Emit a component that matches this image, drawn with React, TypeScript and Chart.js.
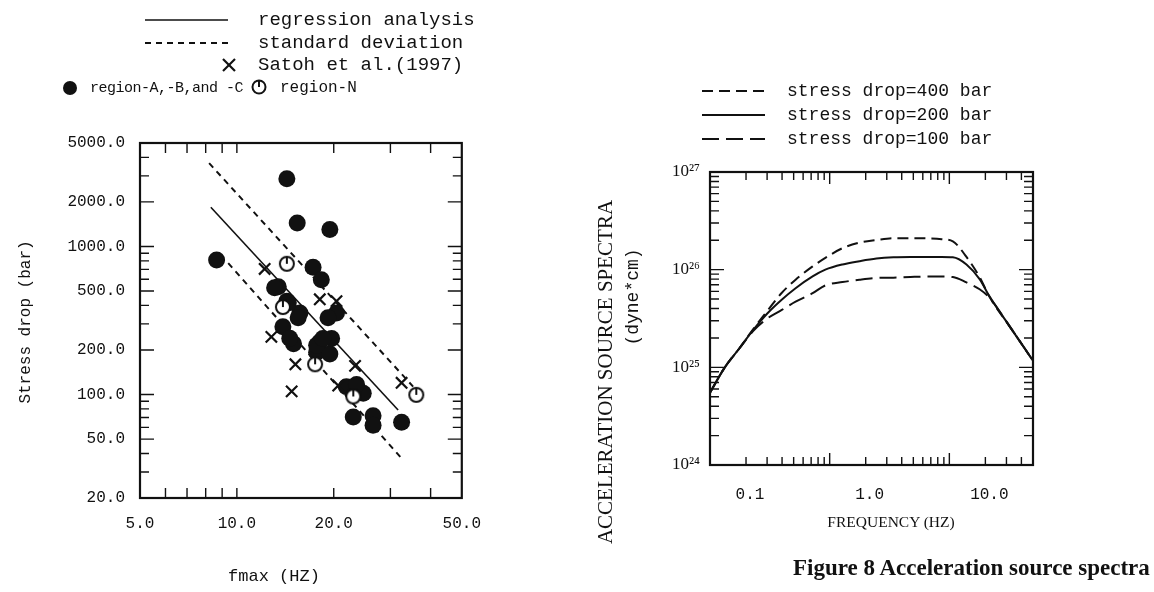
import React, { useEffect, useRef } from "react";
import { Chart, registerables } from "chart.js";

Chart.register(...registerables);

const MONO = '"Liberation Mono", "DejaVu Sans Mono", monospace';
const SERIF = '"Liberation Serif", "DejaVu Serif", serif';

// ---------- Left chart: stress drop vs fmax ----------
const fmaxTickLabels = [5, 10, 20, 50];
const fmaxMinorTicks = [6, 7, 8, 9, 10, 20, 30, 40];
const stressTickLabels = [20, 50, 100, 200, 500, 1000, 2000, 5000];
const stressMinorTicks = [30, 40, 60, 70, 80, 90, 300, 400, 600, 700, 800, 900, 3000, 4000];

const regionABC_fmax = [14.3, 15.4, 19.45, 8.65, 17.25, 18.3, 13.45, 14.3, 15.7, 20.4, 13.9, 15.0, 18.1, 17.7, 19.45, 21.9, 24.7, 23.0, 26.5, 26.5, 32.5, 14.45, 15.5, 19.2, 19.7, 14.6, 17.7, 18.5, 23.55, 13.1];
const regionABC_stress = [2870, 1440, 1300, 810, 724, 596, 535, 427, 355, 355, 287, 220, 226, 193, 188, 113, 102, 70.5, 72, 62, 65, 416, 330, 330, 239, 240, 215, 239, 117, 527];

const regionN_fmax = [14.3, 13.9, 17.5, 23.0, 36.1];
const regionN_stress = [764, 390, 160, 97, 99.5];

const satoh_fmax = [12.2, 18.1, 20.4, 12.8, 15.2, 14.8, 23.3, 32.5, 20.65];
const satoh_stress = [705, 440, 427, 245, 160, 105, 156, 120, 115];

const regression_fmax = [8.3, 31.7];
const regression_stress = [1842, 78.7];
const sdUpper_fmax = [8.2, 35.3];
const sdUpper_stress = [3652, 113];
const sdLower_fmax = [9.4, 32.5];
const sdLower_stress = [771, 37.1];

// ---------- Right chart: acceleration source spectra ----------
const frequency = [0.1, 0.133, 0.175, 0.229, 0.301, 0.395, 0.519, 0.72, 0.92, 1.28, 1.77, 2.46, 3.41, 4.73, 6.56, 8.62, 10.7, 13.9, 17.9, 21.7, 31.9, 50];
const spectrum400 = [5.5e24, 1.0e25, 1.55e25, 2.45e25, 3.77e25, 5.74e25, 7.89e25, 1.08e26, 1.32e26, 1.66e26, 1.89e26, 2.01e26, 2.1e26, 2.1e26, 2.09e26, 2.05e26, 1.95e26, 1.35e26, 8.4e25, 5.25e25, 2.63e25, 1.17e25];
const spectrum200 = [5.5e24, 1.0e25, 1.55e25, 2.4e25, 3.56e25, 4.9e25, 6.46e25, 8.53e25, 1.0e26, 1.13e26, 1.22e26, 1.3e26, 1.34e26, 1.35e26, 1.35e26, 1.35e26, 1.34e26, 1.13e26, 8.0e25, 5.3e25, 2.63e25, 1.17e25];
const spectrum100 = [5.5e24, 1.0e25, 1.55e25, 2.35e25, 3.16e25, 3.85e25, 4.7e25, 5.74e25, 6.9e25, 7.46e25, 7.89e25, 8.22e25, 8.28e25, 8.41e25, 8.5e25, 8.5e25, 8.4e25, 7.4e25, 6.3e25, 5.15e25, 2.63e25, 1.17e25];

const freqTickLabels = [0.1, 1, 10];
const freqMinorTicks = [0.2, 0.3, 0.4, 0.5, 0.6, 0.7, 0.8, 0.9, 1, 2, 3, 4, 5, 6, 7, 8, 9, 10, 20, 30, 40];
const specTickLabels = [1e24, 1e25, 1e26, 1e27];
const specMinorTicks = [2e24, 3e24, 4e24, 5e24, 6e24, 7e24, 8e24, 9e24, 1e25, 2e25, 3e25, 4e25, 5e25, 6e25, 7e25, 8e25, 9e25, 1e26, 2e26, 3e26, 4e26, 5e26, 6e26, 7e26, 8e26, 9e26];

const SUP: Record<string, string> = { "0": "⁰", "1": "¹", "2": "²", "3": "³", "4": "⁴", "5": "⁵", "6": "⁶", "7": "⁷", "8": "⁸", "9": "⁹" };

const zip = (xs: number[], ys: number[]) => xs.map((x, i) => ({ x, y: ys[i] }));

const frameTicksPlugin = {
  id: "frameTicks",
  afterDatasetsDraw(chart: any, _args: any, opts: any) {
    if (!opts || !opts.x) return;
    const { ctx, chartArea: a, scales } = chart;
    const xs = scales.x;
    const ys = scales.y;
    ctx.save();
    ctx.strokeStyle = "#111";
    ctx.lineWidth = 2.2;
    ctx.strokeRect(a.left, a.top, a.right - a.left, a.bottom - a.top);
    ctx.lineWidth = 1.4;
    ctx.beginPath();
    opts.x.forEach((t: number[]) => {
      const p = xs.getPixelForValue(t[0]);
      ctx.moveTo(p, a.bottom);
      ctx.lineTo(p, a.bottom - t[1]);
      ctx.moveTo(p, a.top);
      ctx.lineTo(p, a.top + t[1]);
    });
    opts.y.forEach((t: number[]) => {
      const p = ys.getPixelForValue(t[0]);
      ctx.moveTo(a.left, p);
      ctx.lineTo(a.left + t[1], p);
      ctx.moveTo(a.right, p);
      ctx.lineTo(a.right - t[1], p);
    });
    ctx.stroke();
    ctx.restore();
  },
};

function makeOpenMarker() {
  const c = document.createElement("canvas");
  c.width = 18;
  c.height = 18;
  const g = c.getContext("2d")!;
  g.fillStyle = "#fff";
  g.strokeStyle = "#111";
  g.lineWidth = 2;
  g.beginPath();
  g.arc(9, 9, 7, 0, Math.PI * 2);
  g.fill();
  g.stroke();
  g.beginPath();
  g.moveTo(9, 3);
  g.lineTo(9, 9);
  g.stroke();
  return c;
}

function T({ x, y, size = 17, family = MONO, weight = 400, anchor = "start", rotate = 0, spacing = 0, children }: any) {
  const tx = anchor === "middle" ? "-50%" : anchor === "end" ? "-100%" : "0";
  const transform = rotate ? `translate(-50%, -50%) rotate(${rotate}deg)` : `translate(${tx}, -50%)`;
  return (
    <div style={{ position: "absolute", left: x, top: y, transform, fontFamily: family, fontSize: size, fontWeight: weight, letterSpacing: spacing, lineHeight: 1, whiteSpace: "nowrap", color: "#111" }}>
      {children}
    </div>
  );
}

export default function App() {
  const leftRef = useRef<HTMLCanvasElement>(null);
  const rightRef = useRef<HTMLCanvasElement>(null);

  useEffect(() => {
    const openMarker = makeOpenMarker();
    const tickFont = { family: MONO, size: 16 };

    const left = new Chart(leftRef.current!, {
      type: "scatter",
      data: {
        datasets: [
          { label: "region-N", data: zip(regionN_fmax, regionN_stress), pointStyle: openMarker as any, pointRadius: 8, order: 0 },
          { label: "Satoh et al.(1997)", data: zip(satoh_fmax, satoh_stress), pointStyle: "crossRot", pointRadius: 8, borderColor: "#111", borderWidth: 2.2, order: 1 },
          { label: "region-A,-B,and -C", data: zip(regionABC_fmax, regionABC_stress), pointStyle: "circle", pointRadius: 8.5, backgroundColor: "#111", borderColor: "#111", borderWidth: 0, order: 2 },
          { label: "regression analysis", data: zip(regression_fmax, regression_stress), showLine: true, pointRadius: 0, borderColor: "#111", borderWidth: 1.6, order: 3 },
          { label: "standard deviation +", data: zip(sdUpper_fmax, sdUpper_stress), showLine: true, pointRadius: 0, borderColor: "#111", borderWidth: 2, borderDash: [6, 5], order: 3 },
          { label: "standard deviation -", data: zip(sdLower_fmax, sdLower_stress), showLine: true, pointRadius: 0, borderColor: "#111", borderWidth: 2, borderDash: [6, 5], order: 3 },
        ],
      },
      options: {
        animation: false,
        responsive: false,
        events: [],
        layout: { padding: { top: 143, right: 0, left: 0, bottom: 0 } },
        plugins: {
          legend: { display: false },
          tooltip: { enabled: false },
          frameTicks: {
            x: fmaxMinorTicks.map((v) => [v, 10]),
            y: [...stressMinorTicks.map((v) => [v, 9]), ...stressTickLabels.map((v) => [v, 14])],
          },
        } as any,
        scales: {
          x: {
            type: "logarithmic",
            min: 5,
            max: 50,
            grid: { display: false, drawTicks: false },
            border: { display: false },
            afterBuildTicks: (s: any) => { s.ticks = fmaxTickLabels.map((v) => ({ value: v })); },
            afterFit: (s: any) => { s.height = 94; },
            ticks: { autoSkip: false, maxRotation: 0, padding: 16, color: "#111", font: tickFont, callback: (v: any) => Number(v).toFixed(1) },
          },
          y: {
            type: "logarithmic",
            min: 20,
            max: 5000,
            grid: { display: false, drawTicks: false },
            border: { display: false },
            afterBuildTicks: (s: any) => { s.ticks = stressTickLabels.map((v) => ({ value: v })); },
            afterFit: (s: any) => { s.width = 140; },
            ticks: { autoSkip: false, padding: 15, color: "#111", font: tickFont, callback: (v: any) => Number(v).toFixed(1) },
          },
        },
      },
      plugins: [frameTicksPlugin],
    } as any);

    const right = new Chart(rightRef.current!, {
      type: "line",
      data: {
        datasets: [
          { label: "stress drop=400 bar", data: zip(frequency, spectrum400), borderColor: "#111", borderWidth: 2, borderDash: [11, 6], pointRadius: 0, cubicInterpolationMode: "monotone" },
          { label: "stress drop=200 bar", data: zip(frequency, spectrum200), borderColor: "#111", borderWidth: 2, pointRadius: 0, cubicInterpolationMode: "monotone" },
          { label: "stress drop=100 bar", data: zip(frequency, spectrum100), borderColor: "#111", borderWidth: 2, borderDash: [17, 7], pointRadius: 0, cubicInterpolationMode: "monotone" },
        ],
      },
      options: {
        animation: false,
        responsive: false,
        events: [],
        layout: { padding: { top: 172, right: 121, left: 0, bottom: 0 } },
        plugins: {
          legend: { display: false },
          tooltip: { enabled: false },
          frameTicks: {
            x: freqMinorTicks.map((v) => [v, [1, 10].includes(v) ? 12 : 8]),
            y: specMinorTicks.map((v) => [v, [1e25, 1e26].includes(v) ? 14 : 9]),
          },
        } as any,
        scales: {
          x: {
            type: "logarithmic",
            min: 0.1,
            max: 50,
            grid: { display: false, drawTicks: false },
            border: { display: false },
            afterBuildTicks: (s: any) => { s.ticks = freqTickLabels.map((v) => ({ value: v })); },
            afterFit: (s: any) => { s.height = 127; },
            ticks: { autoSkip: false, maxRotation: 0, padding: 20, labelOffset: 40, color: "#111", font: tickFont, callback: (v: any) => Number(v).toFixed(1) },
          },
          y: {
            type: "logarithmic",
            min: 1e24,
            max: 1e27,
            grid: { display: false, drawTicks: false },
            border: { display: false },
            afterBuildTicks: (s: any) => { s.ticks = specTickLabels.map((v) => ({ value: v })); },
            afterFit: (s: any) => { s.width = 150; },
            ticks: {
              autoSkip: false,
              padding: 10,
              color: "#111",
              font: { family: SERIF, size: 17 },
              callback: (v: any) => "10" + String(Math.round(Math.log10(Number(v)))).split("").map((d) => SUP[d]).join(""),
            },
          },
        },
      },
      plugins: [frameTicksPlugin],
    } as any);

    return () => {
      left.destroy();
      right.destroy();
    };
  }, []);

  return (
    <div style={{ position: "absolute", left: 0, top: 0, width: 1154, height: 592, overflow: "hidden", background: "#fff" }}>
      <canvas ref={leftRef} width={497} height={592} style={{ position: "absolute", left: 0, top: 0, width: 497, height: 592 }} />
      <canvas ref={rightRef} width={594} height={592} style={{ position: "absolute", left: 560, top: 0, width: 594, height: 592 }} />

      <svg width={1154} height={592} style={{ position: "absolute", left: 0, top: 0, pointerEvents: "none" }}>
        {/* left legend marks */}
        <line x1={145} y1={20} x2={228} y2={20} stroke="#111" strokeWidth={1.6} />
        <line x1={145} y1={43} x2={228} y2={43} stroke="#111" strokeWidth={2} strokeDasharray="6 5" />
        <line x1={223} y1={59} x2={235} y2={71} stroke="#111" strokeWidth={2.2} />
        <line x1={235} y1={59} x2={223} y2={71} stroke="#111" strokeWidth={2.2} />
        <circle cx={70} cy={88} r={7} fill="#111" />
        <circle cx={259} cy={87} r={6.5} fill="#fff" stroke="#111" strokeWidth={2} />
        <line x1={259} y1={81} x2={259} y2={87} stroke="#111" strokeWidth={2} />
        {/* right legend marks */}
        <line x1={702} y1={91} x2={765} y2={91} stroke="#111" strokeWidth={2} strokeDasharray="11 6" />
        <line x1={702} y1={115} x2={765} y2={115} stroke="#111" strokeWidth={2} />
        <line x1={702} y1={139} x2={765} y2={139} stroke="#111" strokeWidth={2} strokeDasharray="17 7" />
      </svg>

      {/* left legend texts */}
      <T x={258} y={20} size={19}>regression analysis</T>
      <T x={258} y={43} size={19}>standard deviation</T>
      <T x={258} y={65} size={19}>Satoh et al.(1997)</T>
      <T x={90} y={88} size={15} spacing={-0.5}>region-A,-B,and -C</T>
      <T x={280} y={88} size={16}>region-N</T>

      {/* left axis titles */}
      <T x={26} y={322} size={16} rotate={-90}>Stress drop (bar)</T>
      <T x={274} y={576} size={17} anchor="middle">fmax (HZ)</T>

      {/* right legend texts */}
      <T x={787} y={91} size={18}>stress drop=400 bar</T>
      <T x={787} y={115} size={18}>stress drop=200 bar</T>
      <T x={787} y={139} size={18}>stress drop=100 bar</T>

      {/* right axis titles */}
      <T x={605} y={372} size={21} family={SERIF} rotate={-90}>ACCELERATION SOURCE SPECTRA</T>
      <T x={633} y={297} size={18} rotate={-90}>(dyne*cm)</T>
      <T x={891} y={522} size={15.5} family={SERIF} anchor="middle">FREQUENCY (HZ)</T>

      {/* caption */}
      <T x={793} y={567} size={23} family={SERIF} weight={700}>Figure 8 Acceleration source spectra</T>
    </div>
  );
}
